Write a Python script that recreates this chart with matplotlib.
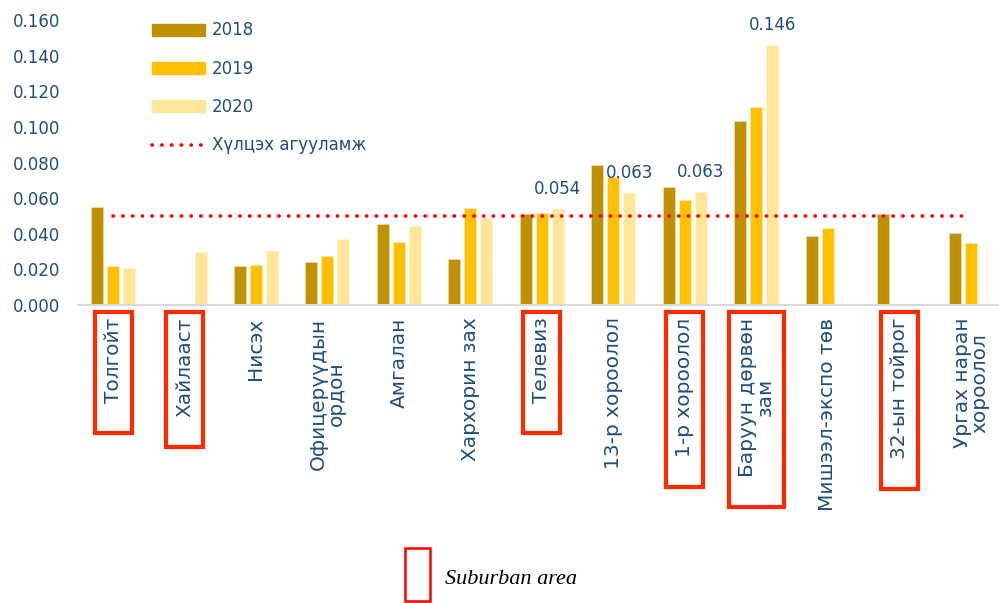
import matplotlib
matplotlib.use('Agg')
import matplotlib.pyplot as plt
import numpy as np
from matplotlib.patches import Rectangle, Patch
from matplotlib.lines import Line2D

# data
categories = ['Толгойт', 'Хайлааст', 'Нисэх', 'Офицерүүдын\nордон', 'Амгалан',
              'Хархорин зах', 'Телевиз', '13-р хороолол', '1-р хороолол',
              'Баруун дөрвөн\nзам', 'Мишээл-экспо төв', '32-ын тойрог',
              'Ургах наран\nхороолол']
v2018 = [0.055, np.nan, 0.022, 0.024, 0.0455, 0.0257, 0.051, 0.0788, 0.066, 0.1035, 0.039, 0.051, 0.0404]
v2019 = [0.022, np.nan, 0.0225, 0.0275, 0.0352, 0.0547, 0.0517, 0.0719, 0.059, 0.1114, 0.043, np.nan, 0.0346]
v2020 = [0.021, 0.030, 0.0305, 0.037, 0.0446, 0.0487, 0.054, 0.063, 0.0633, 0.146, np.nan, np.nan, np.nan]
limit_value = 0.05
labelled = [6, 7, 8, 9]          # 2020 bars with value labels
suburban = [0, 1, 6, 8, 9, 11]   # categories boxed in red

c18, c19, c20 = '#BF9000', '#FFC000', '#FFE699'
txt = '#1F4E79'
box_red = '#FF2A00'

fig = plt.figure(figsize=(9.99, 6.03), dpi=100)
ax = fig.add_axes([78 / 999, 1 - 305 / 603, 920 / 999, 285 / 603])

x = np.arange(len(categories))
off = 0.224
w = 0.168
ax.bar(x - off, v2018, w, color=c18, edgecolor='#E8D9A8', linewidth=0.6)
ax.bar(x, v2019, w, color=c19, edgecolor='#FFE9A8', linewidth=0.6)
ax.bar(x + off, v2020, w, color=c20, edgecolor='#FFF2CC', linewidth=0.6)

ax.plot([x[0], x[-1]], [limit_value, limit_value], color='#FF0000', lw=2.6,
        linestyle=(0, (0.1, 2.6)), dash_capstyle='round')

for i in labelled:
    ax.annotate(f'{v2020[i]:.3f}', xy=(x[i] + off, v2020[i]), xytext=(0, 8),
                textcoords='offset points', ha='center', va='bottom',
                fontsize=12, color=txt)

ax.set_ylim(0, 0.16)
ax.set_xlim(-0.49, 12.38)
ax.set_yticks(np.arange(0, 0.161, 0.02))
ax.set_yticklabels([f'{v:.3f}' for v in np.arange(0, 0.161, 0.02)])
ax.set_xticks(x)
ax.set_xticklabels(categories, rotation=90, ha='center', va='top',
                   fontsize=14.5, family='DejaVu Sans', color=txt,
                   linespacing=0.9)
ax.tick_params(axis='y', length=0, pad=13, labelsize=12, labelcolor=txt)
ax.tick_params(axis='x', length=0, pad=9)
for s in ['left', 'right', 'top']:
    ax.spines[s].set_visible(False)
ax.spines['bottom'].set_color('#D9D9D9')
ax.spines['bottom'].set_linewidth(1.5)

handles = [Patch(color=c18), Patch(color=c19), Patch(color=c20),
           Line2D([0], [0], color='#FF0000', lw=2.6, linestyle=(0, (0.1, 2.6)),
                  dash_capstyle='round')]
leg = ax.legend(handles, ['2018', '2019', '2020', 'Хүлцэх агууламж'],
                loc='upper left', bbox_to_anchor=(0.080, 0.995), frameon=False,
                fontsize=12, handlelength=3.2, handleheight=0.72,
                handletextpad=0.4, labelspacing=1.22, borderpad=0, borderaxespad=0)
for t in leg.get_texts():
    t.set_color(txt)

# red boxes around suburban area labels
fig.canvas.draw()
inv = fig.transFigure.inverted()
labels = ax.get_xticklabels()
for i in suburban:
    bb = labels[i].get_window_extent()
    x0, y0 = inv.transform((bb.x0 - 9, bb.y0 - 30))
    x1, y1 = inv.transform((bb.x1 + 9, bb.y1 + 6))
    fig.patches.append(Rectangle((x0, y0), x1 - x0, y1 - y0, transform=fig.transFigure,
                                 fill=False, edgecolor=box_red, lw=3))

# bottom key
fig.patches.append(Rectangle((405 / 999, 1 - 601 / 603), 25 / 999, 53 / 603,
                             transform=fig.transFigure, fill=False,
                             edgecolor='#FF0000', lw=1.8))
fig.text(445 / 999, 1 - 580 / 603, 'Suburban area', family='Liberation Serif',
         style='italic', fontsize=16, va='center', ha='left', color='black')

fig.savefig('out.png', dpi=100)
